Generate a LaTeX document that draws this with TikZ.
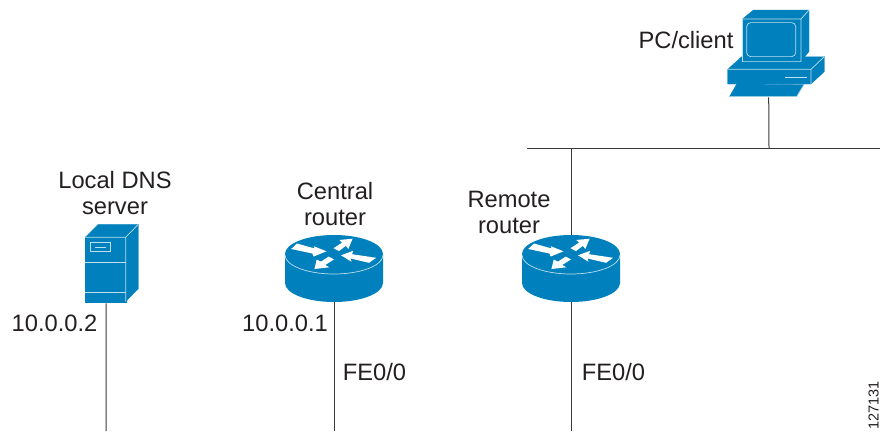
\documentclass[tikz,border=0pt]{standalone}
\usepackage{fontspec}
\setmainfont{Liberation Sans}
\usepackage{tikz}
\definecolor{ciscoblue}{HTML}{0080BC}
\definecolor{inktext}{HTML}{231F20}
\definecolor{wirecol}{HTML}{3A3A3A}
\tikzset{
	label text/.style = {font = \fontsize{23.7}{26}\selectfont, text = inktext, inner sep = 0pt, align = center},
	wire/.style = {draw = wirecol, line width = 1pt},
	blue part/.style = {fill = ciscoblue, draw = ciscoblue, line width = .2pt},
	edge line/.style = {draw = white!75!ciscoblue, line width = .7pt},
	router/.pic = {
		% body, then top face
		\fill[ciscoblue] (-49,1) -- (-49,29) arc[start angle = 180, end angle = 0, x radius = 49, y radius = 19] -- (49,1) -- cycle;
		\fill[ciscoblue] (0,0) ellipse[x radius = 49, y radius = 19];
		\draw[edge line] (-49,1) arc[start angle = 180, end angle = 0, x radius = 49, y radius = 19];
		\foreach \shaft in {
			{(-37,-10.5) -- (-19.3,-5.5) -- (-20.3,-7.8) -- (-7.5,-2.7) -- (-20.3,2.5) -- (-21.7,-.5) -- (-42.8,-5)},
			{(-.5,-5.8) -- (8,-11.3) -- (5.3,-14) -- (18.6,-15.3) -- (14.3,-5) -- (11.9,-8.2) -- (5,-2.9)},
			{(-5.3,2.6) -- (-13,7.6) -- (-17.3,5.6) -- (-19.6,15) -- (-4.7,13.3) -- (-8.7,10.9) -- (0,5.4)},
			{(7,1.3) -- (19.2,-3.2) -- (18,.2) -- (42.2,3.8) -- (35,8.8) -- (16.5,4.5) -- (17.5,7.8)}
		}{
			\fill[white] \shaft -- cycle;
		}
		\coordinate (-top) at (0,-19);
		\coordinate (-bot) at (0,48);
	},
	server/.pic = {
		\path[blue part] (0,0) rectangle (40.4,64.4);
		\path[blue part] (0,0) -- (13,-13) -- (53,-13) -- (40.4,0) -- cycle;
		\path[blue part] (40.4,0) -- (53,-13) -- (53,51.5) -- (40.4,64.4) -- cycle;
		\draw[edge line] (0,0) -- (40.4,0) -- (40.4,64.4) (40.4,0) -- (53,-13);
		\draw[edge line] (0,25.3) -- (40.4,25.3) (0,55) -- (40.4,55);
		\draw[edge line] (4.7,5.3) rectangle (25.3,13.7);
		\draw[edge line] (9.7,10) -- (20.3,10);
		\coordinate (-bot) at (20.8,66);
	},
	pc/.pic = {
		% base
		\path[blue part] (0,0) -- (14,-12.7) -- (96.7,-12.7) -- (83.3,0) -- (83.3,14.7) -- (0,14.7) -- cycle;
		\path[blue part] (83.3,0) -- (96.7,-12.7) -- (96.7,2.3) -- (83.3,14.7) -- cycle;
		\draw[edge line] (0,0) -- (83.3,0) -- (83.3,14.7) (83.3,0) -- (96.7,-12.7);
		\draw[edge line] (57.3,8) -- (79.7,8);
		% monitor
		\path[blue part] (14.7,-50.3) rectangle (73.3,-7.7);
		\path[blue part] (14.7,-50.3) -- (25.7,-59.3) -- (81.3,-59.3) -- (73.3,-50.3) -- cycle;
		\path[blue part] (73.3,-50.3) -- (81.3,-59.3) -- (81.3,-17.7) -- (73.3,-7.7) -- cycle;
		\draw[edge line] (14.7,-50.3) -- (73.3,-50.3) -- (73.3,-7.7) -- (14.7,-7.7) -- cycle (73.3,-50.3) -- (81.3,-59.3);
		\draw[edge line, rounded corners = 4pt] (19,-46.7) rectangle (68,-12.7);
		% keyboard
		\path[blue part] (1.7,27.3) -- (9,14.7) -- (76.3,15.3) -- (69,27.3) -- cycle;
		\draw[edge line] (1.7,27.3) -- (69,27.3) -- (76.3,15.3);
		\coordinate (-bot) at (41,28);
	}
}

\begin{document}
\begin{tikzpicture}[x = 1pt, y = -1pt]
\useasboundingbox (0,0) rectangle (880,431);

% devices
\pic (dns) at (85.3,237.3) {server};
\pic (central) at (334,254) {router};
\pic (remote) at (571,254) {router};
\pic (client) at (727.7,69.3) {pc};

% free ends of the wires
\coordinate (dnsEnd) at (106,431);
\coordinate (centralEnd) at (334,431);
\coordinate (remoteEnd) at (571,431);
\coordinate (lanLeft) at (527,148);
\coordinate (lanRight) at (880,148);
\coordinate (lanRemote) at (571,148);
\coordinate (lanClient) at (769,148);

\draw[wire] (dns-bot) -- (dnsEnd);
\draw[wire] (central-bot) -- (centralEnd);
\draw[wire] (remote-bot) -- (remoteEnd);
\draw[wire] (lanLeft) -- (lanRight);
\draw[wire] (lanRemote) -- (remote-top);
\draw[wire] (lanClient) -- (client-bot);

% labels
\node[label text] (dnsName) at (115,193) {Local DNS\\[0pt]server};
\node[label text] (centralName) at (335,204) {Central\\[0pt]router};
\node[label text] (remoteName) at (509,212) {Remote\\[0pt]router};
\node[label text] (clientName) at (686,40) {PC/client};
\node[label text] (dnsAddr) at (54.5,323) {10.0.0.2};
\node[label text] (centralAddr) at (285,323) {10.0.0.1};
\node[label text] (centralPort) at (374.5,372) {FE0/0};
\node[label text] (remotePort) at (613.5,372) {FE0/0};
\node[label text, font = \fontsize{14.5}{16}\selectfont, rotate = 90] (figId) at (873.5,405.5) {127131};
\end{tikzpicture}
\end{document}
